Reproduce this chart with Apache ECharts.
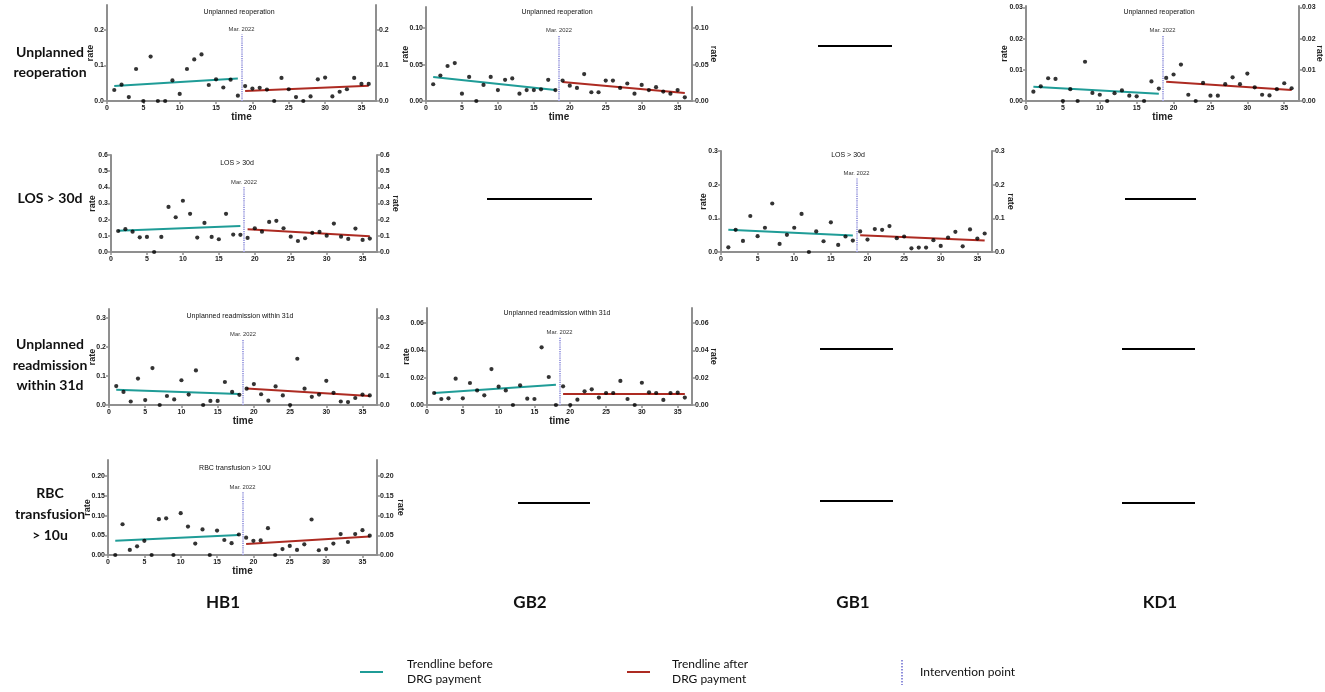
<!DOCTYPE html>
<html><head><meta charset="utf-8">
<script src="https://cdn.jsdelivr.net/npm/echarts@6/dist/echarts.min.js"></script>
<style>html,body{margin:0;padding:0;background:#fff;}#c{width:1325px;height:692px;}</style>
</head><body><div id="c"></div>
<script>
// ---------- DATA ----------
const months = [1,2,3,4,5,6,7,8,9,10,11,12,13,14,15,16,17,18,19,20,21,22,23,24,25,26,27,28,29,30,31,32,33,34,35,36];
const xTicks = [0,5,10,15,20,25,30,35];
const interventionX = 18.5;
const interventionLabel = 'Mar. 2022';
const trendBeforeX = [1, 18];
const trendAfterX = [19, 36];

const hb1Reop = [0.031,0.046,0.011,0.090,0,0.125,0,0,0.058,0.020,0.090,0.117,0.131,0.045,0.061,0.038,0.060,0.015,
                 0.042,0.035,0.037,0.032,0,0.065,0.033,0.011,0,0.013,0.061,0.066,0.013,0.026,0.033,0.065,0.048,0.048];
const hb1ReopBefore = [0.042, 0.063];
const hb1ReopAfter = [0.028, 0.043];
const hb1ReopTicks = [0, 0.1, 0.2];

const gb2Reop = [0.023,0.035,0.048,0.052,0.010,0.033,0,0.022,0.033,0.015,0.029,0.031,0.010,0.015,0.015,0.016,0.029,0.015,
                 0.028,0.021,0.018,0.037,0.012,0.012,0.028,0.028,0.018,0.024,0.010,0.022,0.015,0.019,0.013,0.010,0.015,0.005];
const gb2ReopBefore = [0.033, 0.015];
const gb2ReopAfter = [0.026, 0.011];
const gb2ReopTicks = [0, 0.05, 0.10];

const kd1Reop = [0.0030,0.0047,0.0073,0.0071,0,0.0038,0,0.0126,0.0026,0.0020,0,0.0025,0.0034,0.0017,0.0015,0,0.0063,0.0040,
                 0.0074,0.0085,0.0117,0.0020,0,0.0058,0.0017,0.0017,0.0054,0.0076,0.0054,0.0088,0.0044,0.0020,0.0018,0.0038,0.0057,0.0041];
const kd1ReopBefore = [0.0046, 0.0023];
const kd1ReopAfter = [0.0062, 0.0035];
const kd1ReopTicks = [0, 0.01, 0.02, 0.03];

const hb1Los = [0.130,0.141,0.126,0.091,0.093,0,0.093,0.279,0.215,0.317,0.236,0.089,0.180,0.093,0.079,0.236,0.108,0.106,
                0.087,0.147,0.126,0.186,0.193,0.147,0.095,0.068,0.085,0.118,0.124,0.101,0.176,0.095,0.081,0.145,0.075,0.083];
const hb1LosBefore = [0.132, 0.161];
const hb1LosAfter = [0.141, 0.097];
const hb1LosTicks = [0, 0.1, 0.2, 0.3, 0.4, 0.5, 0.6];

const gb1Los = [0.014,0.066,0.033,0.107,0.047,0.072,0.144,0.024,0.051,0.072,0.113,0,0.061,0.032,0.088,0.021,0.046,0.034,
                0.061,0.037,0.068,0.066,0.077,0.041,0.046,0.011,0.013,0.013,0.035,0.018,0.043,0.060,0.017,0.067,0.040,0.055];
const gb1LosBefore = [0.066, 0.049];
const gb1LosAfter = [0.050, 0.034];
const gb1LosTicks = [0, 0.1, 0.2, 0.3];

const hb1Readm = [0.065,0.045,0.012,0.091,0.017,0.127,0,0.031,0.019,0.085,0.036,0.119,0,0.014,0.014,0.079,0.045,0.035,
                  0.056,0.072,0.037,0.015,0.064,0.033,0,0.159,0.056,0.028,0.036,0.083,0.042,0.012,0.010,0.024,0.036,0.033];
const hb1ReadmBefore = [0.052, 0.038];
const hb1ReadmAfter = [0.057, 0.031];
const hb1ReadmTicks = [0, 0.1, 0.2, 0.3];

const gb2Readm = [0.0088,0.0044,0.0049,0.0193,0.0049,0.0161,0.0107,0.0071,0.0263,0.0134,0.0107,0,0.0144,0.0046,0.0044,0.0422,0.0205,0,
                  0.0137,0,0.0039,0.0100,0.0115,0.0054,0.0088,0.0088,0.0176,0.0044,0,0.0163,0.0093,0.0088,0.0037,0.0088,0.0090,0.0054];
const gb2ReadmBefore = [0.0088, 0.0149];
const gb2ReadmAfter = [0.0080, 0.0080];
const gb2ReadmTicks = [0, 0.02, 0.04, 0.06];

const hb1Rbc = [0,0.078,0.013,0.022,0.036,0,0.091,0.093,0,0.106,0.072,0.029,0.065,0,0.062,0.038,0.030,0.052,
                0.044,0.036,0.037,0.068,0,0.015,0.023,0.013,0.027,0.090,0.012,0.015,0.029,0.053,0.033,0.053,0.063,0.049];
const hb1RbcBefore = [0.036, 0.051];
const hb1RbcAfter = [0.028, 0.047];
const hb1RbcTicks = [0, 0.05, 0.10, 0.15, 0.20];

const rowLabels = [['Unplanned','reoperation'], ['LOS > 30d'], ['Unplanned','readmission','within 31d'], ['RBC','transfusion','> 10u']];
const colLabels = ['HB1','GB2','GB1','KD1'];
const legendTexts = ['Trendline before\nDRG payment', 'Trendline after\nDRG payment', 'Intervention point'];

// ---------- LAYOUT ----------
const panels = [
  {title:'Unplanned reoperation', data:hb1Reop, before:hb1ReopBefore, after:hb1ReopAfter, ticks:hb1ReopTicks, ymax:0.27, dec:1, lineTop:0.187,
   grid:{left:107, top:5, width:269, height:96}, tx:239, ty:13, lgap:12, rgap:13, rightName:false, time:true},
  {title:'Unplanned reoperation', data:gb2Reop, before:gb2ReopBefore, after:gb2ReopAfter, ticks:gb2ReopTicks, ymax:0.129, dec:2, lineTop:0.0907,
   grid:{left:426, top:7, width:266, height:94}, tx:557, ty:13, lgap:16, rgap:17, rightName:true, time:true},
  {title:'Unplanned reoperation', data:kd1Reop, before:kd1ReopBefore, after:kd1ReopAfter, ticks:kd1ReopTicks, ymax:0.0305, dec:2, lineTop:0.021,
   grid:{left:1026, top:6, width:273, height:95}, tx:1159, ty:13, lgap:17, rgap:16, rightName:true, time:true},
  {title:'LOS > 30d', data:hb1Los, before:hb1LosBefore, after:hb1LosAfter, ticks:hb1LosTicks, ymax:0.6, dec:1, lineTop:0.40,
   grid:{left:111, top:155, width:266, height:97}, tx:237, ty:164, lgap:14, rgap:14, rightName:true, time:false},
  {title:'LOS > 30d', data:gb1Los, before:gb1LosBefore, after:gb1LosAfter, ticks:gb1LosTicks, ymax:0.3, dec:1, lineTop:0.218,
   grid:{left:721, top:151, width:271, height:101}, tx:848, ty:156, lgap:13, rgap:14, rightName:true, time:false},
  {title:'Unplanned readmission within 31d', data:hb1Readm, before:hb1ReadmBefore, after:hb1ReadmAfter, ticks:hb1ReadmTicks, ymax:0.33, dec:1, lineTop:0.224,
   grid:{left:109, top:309, width:268, height:96}, tx:240, ty:317, lgap:12, rgap:13, rightName:false, time:true},
  {title:'Unplanned readmission within 31d', data:gb2Readm, before:gb2ReadmBefore, after:gb2ReadmAfter, ticks:gb2ReadmTicks, ymax:0.071, dec:2, lineTop:0.0498,
   grid:{left:427, top:308, width:265, height:97}, tx:557, ty:314, lgap:16, rgap:17, rightName:true, time:true},
  {title:'RBC transfusion > 10U', data:hb1Rbc, before:hb1RbcBefore, after:hb1RbcAfter, ticks:hb1RbcTicks, ymax:0.241, dec:2, lineTop:0.159,
   grid:{left:108, top:460, width:269, height:95}, tx:235, ty:469, lgap:16, rgap:19, rightName:true, time:true}
];
const emptyMarks = [
  [818,46,892],[487,199,592],[1125,199,1196],[820,349,893],[1122,349,1195],[518,503,590],[820,501,893],[1122,503,1195]
];
const rowLabelPos = [[50,[52,72]],[50,[198]],[50,[344,365,385]],[50,[493,514,535]]];
const colLabelPos = [[223,603],[530,603],[853,603],[1160,603]];

const AX = '#8f8f8f', TEAL = '#1f9c97', RED = '#ad2b22', DASH = '#a4a4e2';
const tickFont = {fontSize:7, fontWeight:'bold', color:'#222', fontFamily:'Liberation Sans'};

const grids = [], xAxes = [], yAxes = [], series = [], titles = [];
panels.forEach((p, i) => {
  grids.push(Object.assign({containLabel:false}, p.grid));
  xAxes.push({
    type:'value', gridIndex:i, min:0, max:37,
    name: p.time ? 'time' : '', nameLocation:'middle', nameGap:11, nameMoveOverlap:false,
    nameTextStyle:{fontSize:10, fontWeight:'bold', color:'#222', fontFamily:'Liberation Sans'},
    axisLine:{show:true, onZero:false, lineStyle:{color:AX, width:2}},
    axisTick:{show:true, length:3, customValues:xTicks, lineStyle:{color:AX, width:1.5}},
    axisLabel:Object.assign({customValues:xTicks, margin:4}, tickFont),
    splitLine:{show:false}
  });
  const yBase = (pos) => ({
    type:'value', gridIndex:i, min:0, max:p.ymax, position:pos,
    axisLine:{show:true, lineStyle:{color:AX, width:2}},
    axisTick:{show:true, length:3, customValues:p.ticks, lineStyle:{color:AX, width:1.5}},
    axisLabel:Object.assign({customValues:p.ticks, margin:3, formatter:v => v.toFixed(p.dec)}, tickFont),
    splitLine:{show:false},
    nameLocation:'middle', nameMoveOverlap:false,
    nameTextStyle:{fontSize:9, fontWeight:'bold', color:'#222', fontFamily:'Liberation Sans'}
  });
  const yl = yBase('left'); yl.name = 'rate'; yl.nameGap = p.lgap; yl.nameRotate = 90;
  const yr = yBase('right'); yr.name = p.rightName ? 'rate' : ''; yr.nameGap = p.rgap; yr.nameRotate = -90;
  yAxes.push(yl); yAxes.push(yr);
  const yi = yAxes.length - 2;
  series.push({
    type:'scatter', xAxisIndex:i, yAxisIndex:yi, symbolSize:4.2, itemStyle:{color:'#000'},
    data: months.map((m, k) => [m, p.data[k]]), z:3, silent:true
  });
  series.push({
    type:'line', xAxisIndex:i, yAxisIndex:yi, symbol:'none', lineStyle:{color:TEAL, width:2}, silent:true,
    data: trendBeforeX.map((x, k) => [x, p.before[k]]),
    markLine:{silent:true, symbol:'none', animation:false,
      lineStyle:{color:DASH, type:[1.2,1], width:2},
      label:{show:true, position:'end', formatter:interventionLabel, fontSize:5.8, color:'#333', distance:2, fontFamily:'Liberation Sans'},
      data:[[{coord:[interventionX, 0]}, {coord:[interventionX, p.lineTop]}]]}
  });
  series.push({
    type:'line', xAxisIndex:i, yAxisIndex:yi, symbol:'none', lineStyle:{color:RED, width:2}, silent:true,
    data: trendAfterX.map((x, k) => [x, p.after[k]])
  });
  titles.push({text:p.title, left:p.tx, top:p.ty - 4, padding:0, textAlign:'center',
    textStyle:{fontSize:7, fontWeight:'normal', color:'#111', fontFamily:'Liberation Sans'}});
});

const graphic = [];
emptyMarks.forEach(m => graphic.push({type:'line', shape:{x1:m[0], y1:m[1], x2:m[2], y2:m[1]}, style:{stroke:'#000', lineWidth:2}}));
rowLabels.forEach((lines, r) => {
  lines.forEach((t, k) => graphic.push({type:'text', x:rowLabelPos[r][0], y:rowLabelPos[r][1][k],
    style:{text:t, font:'bold 14px Lato', fill:'#111', align:'center', verticalAlign:'middle', textAlign:'center', textVerticalAlign:'middle'}}));
});
colLabels.forEach((t, c) => graphic.push({type:'text', x:colLabelPos[c][0], y:colLabelPos[c][1],
  style:{text:t, font:'bold 17px Lato', fill:'#111', align:'center', verticalAlign:'middle', textAlign:'center', textVerticalAlign:'middle'}}));
// legend
graphic.push({type:'line', shape:{x1:360, y1:672, x2:383, y2:672}, style:{stroke:TEAL, lineWidth:2}});
graphic.push({type:'line', shape:{x1:627, y1:672, x2:650, y2:672}, style:{stroke:RED, lineWidth:2}});
graphic.push({type:'line', shape:{x1:902, y1:660, x2:902, y2:685}, style:{stroke:'#6a6ad0', lineWidth:1.5, lineDash:[1.5,1.5]}});
[[407, legendTexts[0]], [672, legendTexts[1]], [920, legendTexts[2]]].forEach(([x, t]) => graphic.push({type:'text', x:x, y:672,
  style:{text:t, font:'12px Lato', fill:'#111', lineHeight:15, align:'left', verticalAlign:'middle', textAlign:'left', textVerticalAlign:'middle'}}));

const chart = echarts.init(document.getElementById('c'), null, {renderer:'canvas'});
chart.setOption({
  animation:false, backgroundColor:'#fff',
  title: titles, grid: grids, xAxis: xAxes, yAxis: yAxes, series: series, graphic: graphic
});
</script></body></html>
